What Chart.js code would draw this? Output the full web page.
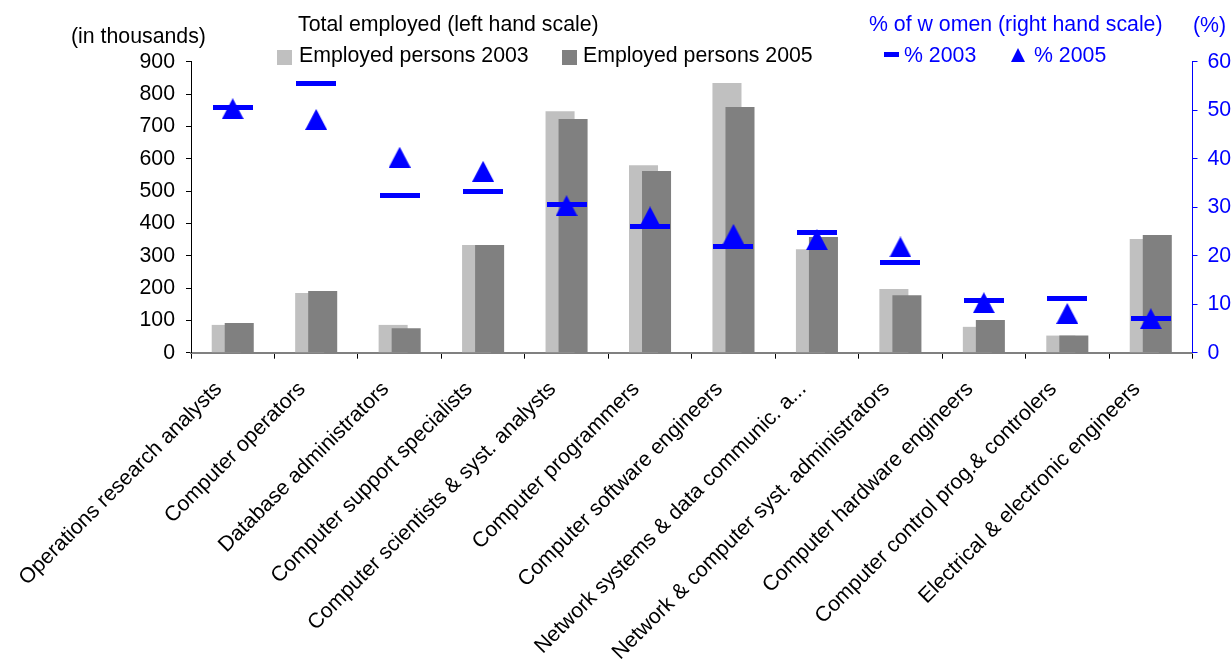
<!DOCTYPE html>
<html>
<head>
<meta charset="utf-8">
<title>Employment and share of women in computer occupations</title>
<script src="https://cdn.jsdelivr.net/npm/chart.js@4/dist/chart.umd.min.js"></script>
<style>
  html, body { margin: 0; padding: 0; background: #fff; }
  #wrap { position: relative; width: 1231px; height: 664px; overflow: hidden;
          font-family: "Liberation Sans", Arial, sans-serif; }
  #chart { position: absolute; left: 0; top: 0; }
  .lbl { position: absolute; font-size: 21.3px; line-height: 21.3px; white-space: nowrap; }
  .blue { color: #0000ff; }
  .sq { position: absolute; width: 15px; height: 15px; }
  .dash { position: absolute; width: 15px; height: 5px; background: #0000ff; }
  .tri { position: absolute; width: 0; height: 0;
         border-left: 7px solid transparent; border-right: 7px solid transparent;
         border-bottom: 14px solid #0000ff; }
</style>
</head>
<body>
<div id="wrap">
  <canvas id="chart" width="1231" height="664"></canvas>

  <!-- axis units + legend -->
  <div class="lbl" style="left:71px; top:26px">(in thousands)</div>
  <div class="lbl" style="left:298px; top:14px">Total employed (left hand scale)</div>
  <div class="sq" style="left:277px; top:50px; background:#c0c0c0"></div>
  <div class="lbl" style="left:299px; top:45px">Employed persons 2003</div>
  <div class="sq" style="left:562px; top:50px; background:#808080"></div>
  <div class="lbl" style="left:583px; top:45px">Employed persons 2005</div>

  <div class="lbl blue" style="left:869px; top:14px">% of w omen (right hand scale)</div>
  <div class="lbl blue" style="left:1193px; top:15px">(%)</div>
  <div class="dash" style="left:884px; top:52px"></div>
  <div class="lbl blue" style="left:904px; top:45px">% 2003</div>
  <div class="tri" style="left:1011px; top:48px"></div>
  <div class="lbl blue" style="left:1034px; top:45px">% 2005</div>
</div>

<script>
// ---- data ----
const categories = [
  'Operations research analysts',
  'Computer operators',
  'Database administrators',
  'Computer support specialists',
  'Computer scientists & syst. analysts',
  'Computer programmers',
  'Computer software engineers',
  'Network systems & data communic. a...',
  'Network & computer syst. administrators',
  'Computer hardware engineers',
  'Computer control prog.& controlers',
  'Electrical & electronic engineers'
];

// employed persons, thousands (left scale)
const employed2003 = [86, 185, 86, 333, 747, 580, 834, 320, 197, 80, 53, 352];
const employed2005 = [92, 191, 76, 333, 723, 562, 760, 358, 178, 101, 53, 364];

// share of women, % (right scale)
const women2003 = [50.6, 55.5, 32.5, 33.3, 30.5, 26.0, 21.9, 24.7, 18.6, 10.7, 11.1, 7.1];
const women2005 = [50.3, 48.1, 40.3, 37.4, 30.3, 28.0, 24.4, 23.3, 21.8, 10.3, 8.1, 7.0];

const BLUE = '#0000ff';
const FAMILY = '"Liberation Sans", Arial, sans-serif';
const FONT = { family: FAMILY, size: 21.3 };

// ---- marker images ----
function makeDash(){
  const c = document.createElement('canvas');
  c.width = 40; c.height = 5;
  const g = c.getContext('2d');
  g.fillStyle = BLUE;
  g.fillRect(0, 0, 40, 5);
  return c;
}

function makeTriangle(){
  const c = document.createElement('canvas');
  c.width = 22; c.height = 21;
  const g = c.getContext('2d');
  g.fillStyle = BLUE;
  g.beginPath();
  g.moveTo(11, 0);
  g.lineTo(22, 21);
  g.lineTo(0, 21);
  g.closePath();
  g.fill();
  return c;
}

// 2003 bars sit behind the 2005 bars
const barLayering = {
  id: 'barLayering',
  beforeDatasetDraw(chart, args){
    if(args.index === 0) return false;
    if(args.index === 1) chart.getDatasetMeta(0).controller.draw();
  }
};

// category names at 45 degrees, text end tucked under the category
const slantedLabels = {
  id: 'slantedLabels',
  afterDraw(chart){
    const x = chart.scales.x;
    const ctx = chart.ctx;
    ctx.save();
    ctx.font = `${FONT.size}px ${FAMILY}`;
    ctx.fillStyle = '#000';
    ctx.textAlign = 'right';
    ctx.textBaseline = 'middle';
    categories.forEach((name, i) => {
      ctx.save();
      ctx.translate(x.getPixelForValue(i) - 14, x.top + 33);
      ctx.rotate(-Math.PI / 4);
      ctx.fillText(name, 0, 0);
      ctx.restore();
    });
    ctx.restore();
  }
};

// fixed plot area: left axis at 191, right axis at 1192, zero line at 353
const LEFT_W = 191;
const RIGHT_W = 1231 - 1192.5;
const BOTTOM_H = 664 - 352.7;

new Chart(document.getElementById('chart'), {
  type: 'bar',
  data: {
    labels: categories,
    datasets: [
      { label: 'Employed persons 2003', data: employed2003, backgroundColor: '#c0c0c0',
        yAxisID: 'y', order: 0 },
      { label: 'Employed persons 2005', data: employed2005, backgroundColor: '#808080',
        yAxisID: 'y', order: 0 },
      { type: 'line', label: '% 2003', data: women2003, yAxisID: 'y1', showLine: false,
        pointStyle: makeDash(), pointRadius: 20, order: -1 },
      { type: 'line', label: '% 2005', data: women2005, yAxisID: 'y1', showLine: false,
        pointStyle: makeTriangle(), pointRadius: 11, order: -1 }
    ]
  },
  options: {
    responsive: false,
    animation: false,
    events: [],
    layout: { padding: { top: 61.7, left: 0, right: 0, bottom: 0 } },
    datasets: {
      bar: { categoryPercentage: 0.312, barPercentage: 2.23, borderWidth: 0 }
    },
    plugins: { legend: { display: false }, tooltip: { enabled: false } },
    scales: {
      x: {
        offset: true,
        grid: { offset: true, drawOnChartArea: false, tickLength: 6, color: '#000' },
        border: { color: '#808080', width: 2 },
        ticks: { display: false, autoSkip: false },
        afterFit(s){ s.height = BOTTOM_H; s.paddingLeft = 0; s.paddingRight = 0; }
      },
      y: {
        position: 'left',
        min: 0, max: 900,
        ticks: { stepSize: 100, color: '#000', font: FONT, padding: 11 },
        grid: { drawOnChartArea: false, tickLength: 5, color: '#000' },
        border: { color: '#000', width: 1 },
        afterFit(s){ s.width = LEFT_W; }
      },
      y1: {
        position: 'right',
        min: 0, max: 60,
        ticks: { stepSize: 10, color: BLUE, font: FONT, padding: 10 },
        grid: { drawOnChartArea: false, tickLength: 5, color: BLUE },
        border: { color: BLUE, width: 1 },
        afterFit(s){ s.width = RIGHT_W; }
      }
    }
  },
  plugins: [barLayering, slantedLabels]
});
</script>
</body>
</html>
